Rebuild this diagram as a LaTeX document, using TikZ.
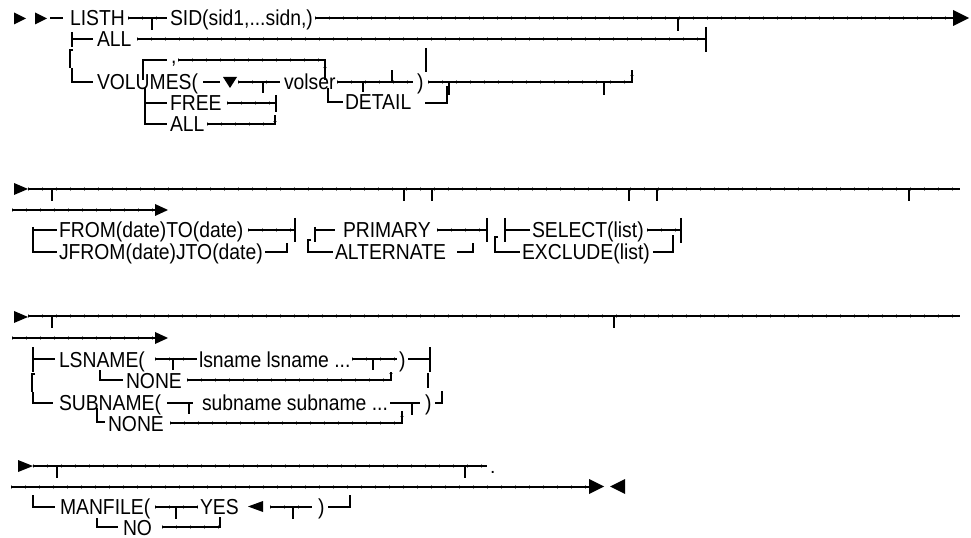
\documentclass[tikz,border=0pt]{standalone}
\usepackage{fontspec}
\setmainfont{Liberation Sans}
\newcommand{\stretchtxt}[1]{\scalebox{1}[1.12]{#1}}
\tikzset{
  ln/.style={line width=1.25pt, line cap=butt, line join=miter},
  sm/.style={preaction={draw, black!45, line width=2.3pt, dash pattern=on 0.5pt off 10pt}},
  lbl/.style={anchor=base west, inner sep=0pt, outer sep=0pt, font=\fontsize{14.5}{17}\selectfont},
  tip/.style={fill=black, draw=none}
}
\begin{document}
\begin{tikzpicture}[x=0.75pt,y=-0.75pt]
\useasboundingbox (0,0) rectangle (971,538);
\begin{scope}[ln]
% ---------- Row group 1 ----------
\fill[tip] (14,12.5) -- (26,18.5) -- (14,24.5) -- cycle;
\fill[tip] (35,12.5) -- (47,18.5) -- (35,24.5) -- cycle;
\draw (50,18) -- (63,18);
\node[lbl] (listh) at (70,26) {\stretchtxt{LISTH}};
\draw[sm] (128,18) -- (167,18); \draw (152,18) -- (152,30);
\node[lbl] (sid) at (170,26) {\stretchtxt{SID(sid1,...sidn,)}};
\draw[sm] (315,18) -- (953,18); \draw (678,18) -- (678,31);
\fill[tip] (953,10) -- (969,18) -- (953,26) -- cycle;
% ALL
\draw (72,32) -- (72,47); \draw (72,39) -- (93,39);
\node[lbl] (all1) at (97,47) {\stretchtxt{ALL}};
\draw[sm] (137,39) -- (706,39); \draw (706,27) -- (706,52);
\draw (73,50) -- (70,50) -- (70,68);
\draw (72,68) -- (72,82) -- (93,82);
% VOLUMES
\node[lbl] (vol) at (97,90) {\stretchtxt{VOLUMES(}};
\draw (203,82) -- (220,82);
\fill[tip] (223,77) -- (237,77) -- (230,88) -- cycle;
\draw[sm] (238,82) -- (280,82); \draw (263,82) -- (263,93);
\node[lbl] (volser) at (284,90) {\stretchtxt{volser}};
\draw[sm] (337,82) -- (413,82); \draw (363,82) -- (363,92); \draw (392,82) -- (392,70);
\node[lbl] (rp1) at (417,90) {\stretchtxt{)}};
\draw (426,48) -- (426,72);
\draw[sm] (428,82) -- (632,82) -- (632,70); \draw (604,82) -- (604,95);
% repeat loop
\draw (143,80) -- (143,60) -- (167,60);
\node[lbl] (comma) at (171,64) {\stretchtxt{,}};
\draw[sm] (178,60) -- (325,60) -- (325,80);
% FREE / ALL
\draw (145,88) -- (145,124) -- (167,124); \draw (145,103) -- (167,103);
\node[lbl] (free) at (170,111) {\stretchtxt{FREE}};
\draw[sm] (227,103) -- (276,103); \draw (276,95) -- (276,112);
\node[lbl] (all2) at (170,132) {\stretchtxt{ALL}};
\draw[sm] (207,124) -- (275,124) -- (275,115);
% DETAIL
\draw (328,88) -- (328,102) -- (343,102);
\node[lbl] (detail) at (345,110) {\stretchtxt{DETAIL}};
\draw (425,103) -- (447,103) -- (447,86); \draw (449,82) -- (449,95);
% ---------- Row group 2 ----------
\fill[tip] (14,183) -- (28,189) -- (14,195) -- cycle;
\draw[sm] (28,189) -- (960,189);
\foreach \xx in {52,404,432,629,657,909} \draw (\xx,189) -- (\xx,201);
\draw[sm] (12,210) -- (155,210);
\fill[tip] (155,204) -- (168,210) -- (155,216) -- cycle;
% FROM
\draw (33,227) -- (33,252) -- (57,252); \draw (33,230) -- (57,230);
\node[lbl] (from) at (59,238) {\stretchtxt{FROM(date)TO(date)}};
\draw[sm] (248,230) -- (295,230); \draw (295,218) -- (295,242);
\node[lbl] (jfrom) at (59,260) {\stretchtxt{JFROM(date)JTO(date)}};
\draw (265,252) -- (287,252) -- (287,243);
% PRIMARY
\draw (311,240) -- (308,240) -- (308,252) -- (333,252);
\draw (315,227) -- (315,242); \draw (315,230) -- (335,230);
\node[lbl] (prim) at (343,238) {\stretchtxt{PRIMARY}};
\draw[sm] (437,230) -- (487,230); \draw (487,218) -- (487,242);
\node[lbl] (alt) at (335,260) {\stretchtxt{ALTERNATE}};
\draw (457,252) -- (473,252) -- (473,243);
% SELECT
\draw (498,237) -- (495,237) -- (495,252) -- (520,252);
\draw (505,218) -- (505,242); \draw (505,230) -- (530,230);
\node[lbl] (sel) at (532,238) {\stretchtxt{SELECT(list)}};
\draw[sm] (647,230) -- (681,230); \draw (681,218) -- (681,243);
\node[lbl] (excl) at (522,260) {\stretchtxt{EXCLUDE(list)}};
\draw (653,252) -- (673,252) -- (673,235);
% ---------- Row group 3 ----------
\fill[tip] (14,311) -- (28,317) -- (14,323) -- cycle;
\draw[sm] (28,316) -- (960,316);
\foreach \xx in {52,614} \draw (\xx,316) -- (\xx,328);
\draw[sm] (12,338) -- (155,338);
\fill[tip] (155,332) -- (168,338) -- (155,344) -- cycle;
% LSNAME
\draw (33,347) -- (33,372); \draw (33,359) -- (55,359);
\node[lbl] (lsn) at (59,367) {\stretchtxt{LSNAME(}};
\draw[sm] (155,359) -- (197,359); \draw (173,359) -- (173,370);
\node[lbl] (lsnv) at (199,367) {\stretchtxt{lsname lsname ...}};
\draw[sm] (352,359) -- (397,359); \draw (373,359) -- (373,370);
\node[lbl] (rp2) at (399,367) {\stretchtxt{)}};
\draw (408,359) -- (430,359); \draw (430,347) -- (430,372);
\draw (428,373) -- (428,388);
\draw (100,370) -- (100,380) -- (123,380);
\node[lbl] (none1) at (126,388) {\stretchtxt{NONE}};
\draw[sm] (187,380) -- (391,380) -- (391,372);
\draw (35,374) -- (32,374) -- (32,392);
\draw (33,392) -- (33,403) -- (53,403);
% SUBNAME
\node[lbl] (subn) at (59,410) {\stretchtxt{SUBNAME(}};
\draw (167,403) -- (193,403); \draw (189,403) -- (189,414);
\node[lbl] (subnv) at (202,410) {\stretchtxt{subname subname ...}};
\draw (390,403) -- (420,403); \draw (412,403) -- (412,415);
\node[lbl] (rp3) at (425,410) {\stretchtxt{)}};
\draw (435,403) -- (442,403) -- (442,391);
\draw (97,408) -- (97,422) -- (105,422);
\node[lbl] (none2) at (108,431) {\stretchtxt{NONE}};
\draw[sm] (170,423) -- (402,423) -- (402,411);
% ---------- Row group 4 ----------
\fill[tip] (18,460) -- (33,466) -- (18,472) -- cycle;
\draw[sm] (33,466) -- (487,466);
\foreach \xx in {57,465} \draw (\xx,466) -- (\xx,478);
\node[lbl] (dot) at (490,473) {.};
\draw[sm] (11,487) -- (589,487);
\fill[tip] (589,479) -- (604,486.5) -- (589,494) -- cycle;
\fill[tip] (625,479) -- (610,486.5) -- (625,494) -- cycle;
% MANFILE
\draw (33,495) -- (33,507) -- (55,507);
\node[lbl] (manf) at (60,514) {\stretchtxt{MANFILE(}};
\draw[sm] (155,507) -- (198,507); \draw (176,507) -- (176,519);
\node[lbl] (yes) at (200,514) {\stretchtxt{YES}};
\fill[tip] (263,501) -- (248,506.5) -- (263,512) -- cycle;
\draw[sm] (270,507) -- (312,507); \draw (293,507) -- (293,519);
\node[lbl] (rp4) at (318,514) {\stretchtxt{)}};
\draw (328,507) -- (350,507) -- (350,495);
\draw (97,518) -- (97,527) -- (118,527);
\node[lbl] (no) at (123,535) {\stretchtxt{NO}};
\draw[sm] (162,527) -- (220,527) -- (220,517);
\end{scope}
\end{tikzpicture}
\end{document}
